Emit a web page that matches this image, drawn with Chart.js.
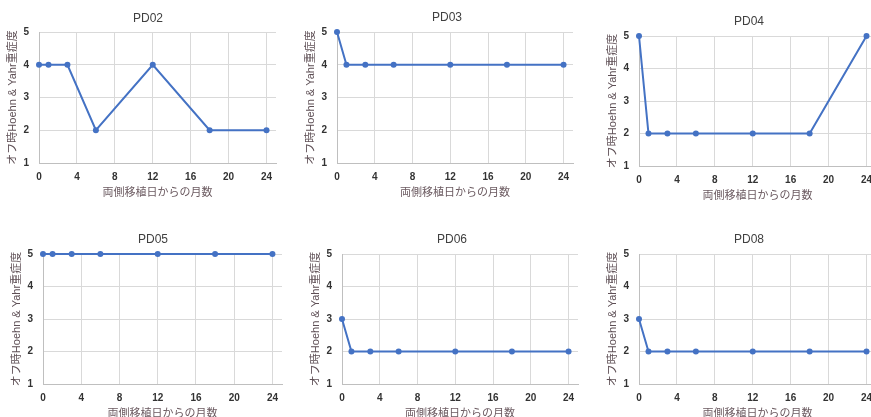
<!DOCTYPE html>
<html><head><meta charset="utf-8">
<script src="https://cdn.jsdelivr.net/npm/chart.js@4/dist/chart.umd.min.js"></script>
<style>
html,body{margin:0;padding:0;background:#fff;width:871px;height:417px;overflow:hidden;position:relative}
canvas{position:absolute}
</style></head><body>
<script>
// ---- data ----
const months = [0, 1, 3, 6, 12, 18, 24];
const patients = ['PD02', 'PD03', 'PD04', 'PD05', 'PD06', 'PD08'];
const pd02 = [4, 4, 4, 2, 4, 2, 2];
const pd03 = [5, 4, 4, 4, 4, 4, 4];
const pd04 = [5, 2, 2, 2, 2, 2, 5];
const pd05 = [5, 5, 5, 5, 5, 5, 5];
const pd06 = [3, 2, 2, 2, 2, 2, 2];
const pd08 = [3, 2, 2, 2, 2, 2, 2];
const seriesList = [pd02, pd03, pd04, pd05, pd06, pd08];
const xTitle = '両側移植日からの月数';
const yTitle = 'オフ時Hoehn & Yahr重症度';

// ---- layout (pixel frames of each panel: plot left/right/top/bottom, title centre) ----
const frames = [
  {L:39,  R:276, T:32,  B:163, tx:148, ty:19},
  {L:337, R:573, T:32,  B:163, tx:447, ty:18},
  {L:639, R:876, T:36,  B:166, tx:749, ty:22},
  {L:43,  R:282, T:254, B:384, tx:153, ty:240},
  {L:342, R:578, T:254, B:384, tx:452, ty:240},
  {L:639, R:876, T:254, B:384, tx:749, ty:240}
];
const YW = 38, XH = 40, TH = 32;

const tickFont = {family:'Liberation Sans, Arial, sans-serif', size:10, weight:'bold'};
const gridColor = '#d9d9d9';

patients.forEach((name, i) => {
  const f = frames[i];
  const left = f.L - YW;
  const right = 2 * f.tx - left;
  const top = f.T - TH;
  const w = right - left;
  const h = f.B + XH - top;
  const padR = right - f.R;
  const tPadTop = f.ty - top - 7.2;
  const tPadBot = TH - tPadTop - 14.4;
  const cv = document.createElement('canvas');
  cv.width = w; cv.height = h;
  cv.style.left = left + 'px'; cv.style.top = top + 'px';
  cv.style.width = w + 'px'; cv.style.height = h + 'px';
  document.body.appendChild(cv);
  const vals = seriesList[i];
  new Chart(cv, {
    type: 'line',
    data: {
      datasets: [{
        data: months.map((m, k) => ({x: m, y: vals[k]})),
        borderColor: '#4472C4', backgroundColor: '#4472C4',
        borderWidth: 2, pointRadius: 3, pointHoverRadius: 3,
        pointBorderWidth: 0, tension: 0, clip: false
      }]
    },
    options: {
      responsive: false, animation: false, events: [],
      devicePixelRatio: 1,
      layout: {padding: 0},
      plugins: {
        legend: {display: false}, tooltip: {enabled: false},
        title: {display: true, text: name, color: '#404040',
          font: {family: 'Liberation Sans, Arial, sans-serif', size: 12, weight: 'normal'},
          padding: {top: tPadTop, bottom: tPadBot}}
      },
      scales: {
        x: {
          type: 'linear', min: 0, max: 25,
          ticks: {stepSize: 4, includeBounds: false, padding: 8, color: '#333', font: tickFont, maxRotation: 0},
          grid: {color: gridColor, drawTicks: false},
          border: {color: '#bfbfbf'},
          title: {display: true, text: xTitle, color: '#6b5a60',
            font: {family: 'Noto Sans CJK JP, sans-serif', size: 11, weight: 'normal'},
            padding: {top: 0, bottom: 4.4}},
          afterFit(s) { s.height = XH; }
        },
        y: {
          min: 1, max: 5,
          ticks: {stepSize: 1, padding: 10, color: '#333', font: tickFont},
          grid: {color: gridColor, drawTicks: false},
          border: {color: '#bfbfbf'},
          title: {display: true, text: yTitle, color: '#5e4f55',
            font: {family: 'Liberation Sans, Noto Sans CJK JP, sans-serif', size: 11, weight: 'normal'},
            padding: {top: 5.4, bottom: 0}},
          afterFit(s) { s.width = YW; }
        },
        y2: {
          position: 'right', min: 1, max: 5,
          grid: {display: false}, ticks: {display: false}, border: {display: false},
          afterFit(s) { s.width = padR; }
        }
      }
    }
  });
});
</script>
</body></html>
